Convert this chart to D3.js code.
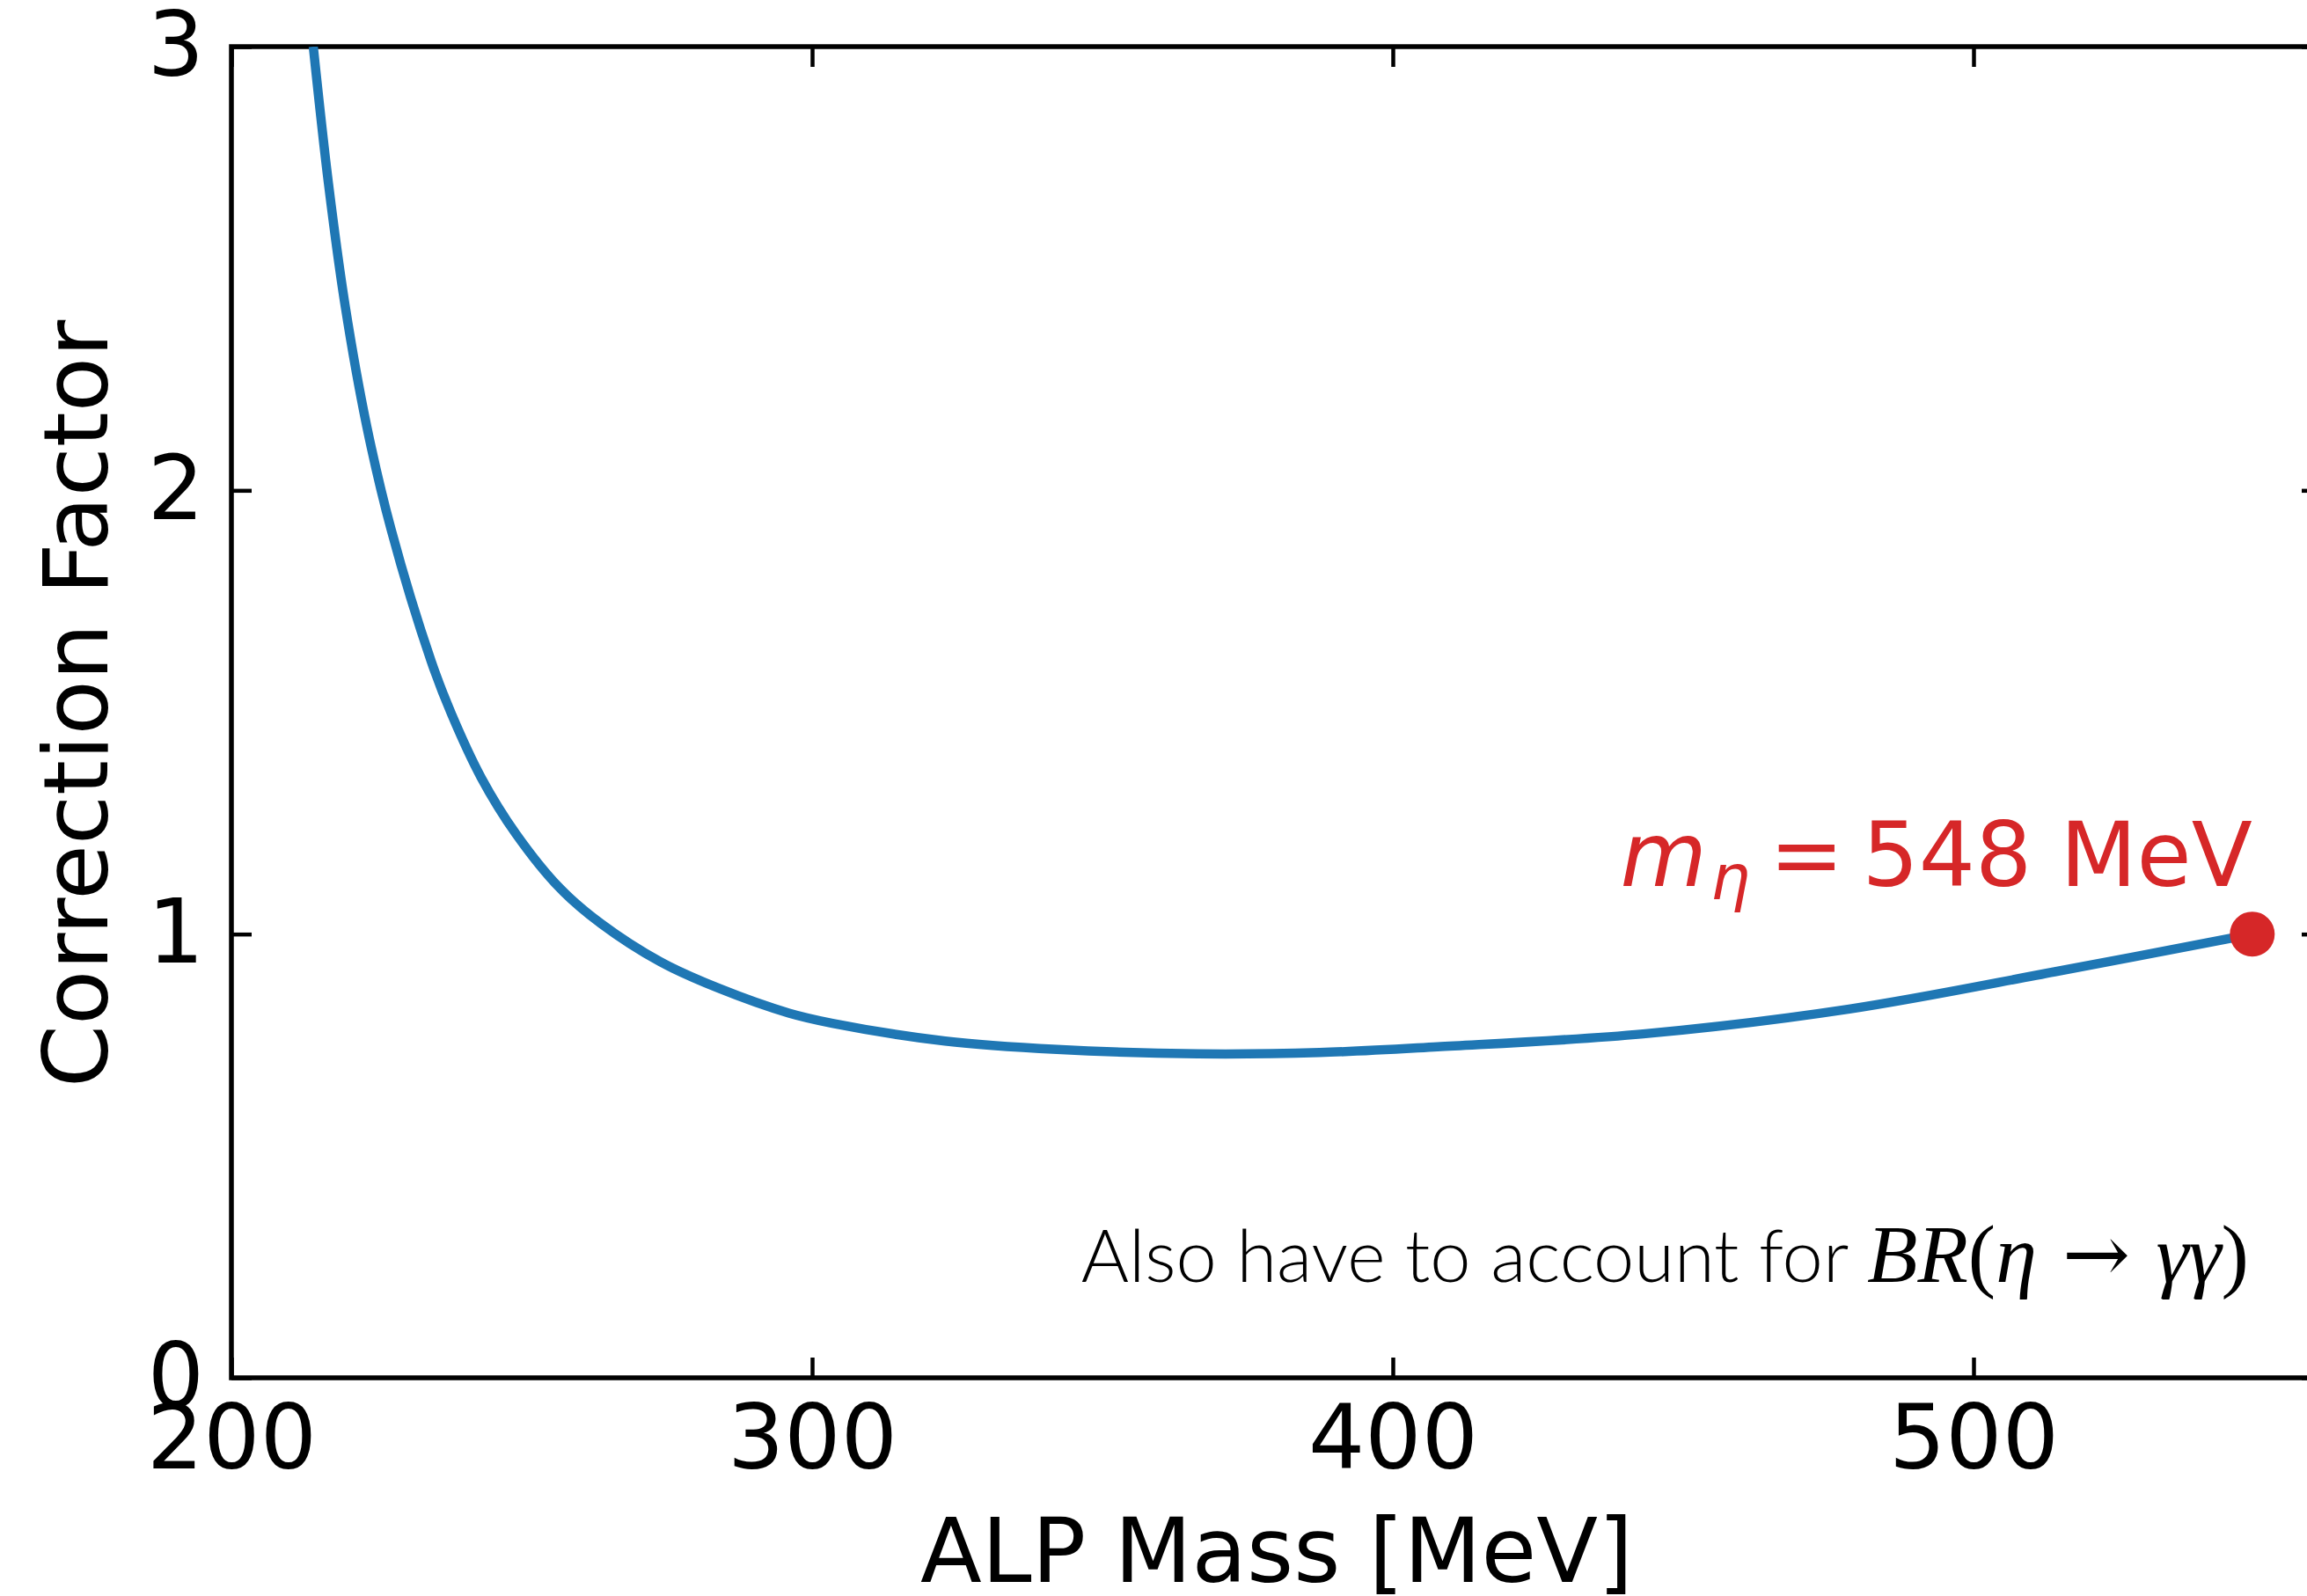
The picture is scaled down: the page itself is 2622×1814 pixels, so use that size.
<!DOCTYPE html>
<html>
<head>
<meta charset="utf-8">
<script src="https://cdn.jsdelivr.net/npm/d3@7"></script>
<style>
body{margin:0;background:#fff;}
svg text{font-family:"DejaVu Sans";}
</style>
</head>
<body>
<div class="chart"></div>
<script>
//alp correction factor vs ALP mass

//curve
var alpMass = [214.1, 216.7, 219.6, 223.3, 227.5, 234.4, 237.9, 243.0, 249.0, 256.6,
	263.7, 273.8, 283.9, 296.0, 303.5, 322.9, 342.2, 366.4, 387.4, 407.7, 443.1,
	478.6, 514.0, 548.0];
var correctionFactor = [3.0, 2.693, 2.415, 2.145, 1.912, 1.615, 1.496, 1.353, 1.226, 1.103,
	1.023, 0.938, 0.878, 0.822, 0.799, 0.759, 0.740, 0.730, 0.733, 0.746, 0.775,
	0.831, 0.915, 1.0];

var xTicks = [200, 300, 400, 500];
var yTicks = [0, 1, 2, 3];
var xDomain = [200, 560];
var yDomain = [0, 3];

//eta marker
var etaMass = [548];
var etaFactor = [1];

var width = 2622, height = 1814;
var plot = {left: 263, right: 2639, top: 53, bottom: 1566};
var tickLen = 23;
var fontSize = 101;

var svg = d3.select(".chart")
	.append("svg")
	.attr("width", width)
	.attr("height", height);

var x = d3.scaleLinear().domain(xDomain).range([plot.left, plot.right]);
var y = d3.scaleLinear().domain(yDomain).range([plot.bottom, plot.top]);

svg.append("clipPath")
	.attr("id", "plotClip")
	.append("rect")
	.attr("x", plot.left)
	.attr("y", plot.top)
	.attr("width", plot.right - plot.left)
	.attr("height", plot.bottom - plot.top);

/** axes, all ticks pointing in **/
function styleAxis(g){
	g.select(".domain").remove();
	g.selectAll(".tick line").attr("stroke", "#000").attr("stroke-width", 4.5);
	g.selectAll(".tick text").attr("fill", "#000");
	g.attr("font-size", fontSize).attr("font-family", "DejaVu Sans");
}

svg.append("g")
	.attr("transform", "translate(0," + plot.bottom + ")")
	.call(d3.axisBottom(x).tickValues(xTicks).tickSizeInner(-tickLen).tickSizeOuter(0).tickPadding(31).tickFormat(d3.format("d")))
	.call(styleAxis);

svg.append("g")
	.attr("transform", "translate(0," + plot.top + ")")
	.call(d3.axisTop(x).tickValues(xTicks).tickSizeInner(-tickLen).tickSizeOuter(0).tickFormat(""))
	.call(styleAxis);

svg.append("g")
	.attr("transform", "translate(" + plot.left + ",0)")
	.call(d3.axisLeft(y).tickValues(yTicks).tickSizeInner(-tickLen).tickSizeOuter(0).tickPadding(31).tickFormat(d3.format("d")))
	.call(styleAxis);

svg.append("g")
	.attr("transform", "translate(" + plot.right + ",0)")
	.call(d3.axisRight(y).tickValues(yTicks).tickSizeInner(-tickLen).tickSizeOuter(0).tickFormat(""))
	.call(styleAxis);

//frame
svg.append("rect")
	.attr("x", plot.left)
	.attr("y", plot.top)
	.attr("width", plot.right - plot.left)
	.attr("height", plot.bottom - plot.top)
	.attr("fill", "none")
	.attr("stroke", "#000")
	.attr("stroke-width", 5.5);

/** curve **/
var pts = alpMass.map(function(d, i){ return [d, correctionFactor[i]]; });
var line = d3.line()
	.x(function(d){ return x(d[0]); })
	.y(function(d){ return y(d[1]); })
	.curve(d3.curveCatmullRom.alpha(0.5));

svg.append("path")
	.datum(pts)
	.attr("clip-path", "url(#plotClip)")
	.attr("d", line)
	.attr("fill", "none")
	.attr("stroke", "#1f77b4")
	.attr("stroke-width", 10.5)
	.attr("stroke-linejoin", "round");

svg.selectAll(".eta")
	.data(etaMass)
	.enter()
	.append("circle")
	.attr("class", "eta")
	.attr("cx", function(d){ return x(d); })
	.attr("cy", function(d, i){ return y(etaFactor[i]); })
	.attr("r", 25.5)
	.attr("fill", "#d62728");

//m_eta label
var etaLabel = svg.append("text")
	.attr("x", x(etaMass[0]))
	.attr("y", y(etaFactor[0]) - 55)
	.attr("text-anchor", "end")
	.attr("fill", "#d62728")
	.attr("font-size", fontSize);
etaLabel.append("tspan").attr("font-style", "italic").text("m");
etaLabel.append("tspan").attr("font-style", "italic").attr("font-size", 71).attr("dy", 15).attr("dx", 4).text("η");
etaLabel.append("tspan").attr("dy", -15).attr("dx", 22).text("=");
etaLabel.append("tspan").attr("dx", 21).text("548 MeV");

//note about branching ratio
var note = svg.append("text")
	.attr("x", x(548) - 4)
	.attr("y", 1457)
	.attr("text-anchor", "end")
	.attr("fill", "#000");
note.append("tspan")
	.attr("font-family", "Lato")
	.attr("font-weight", 300)
	.attr("font-size", 83)
	.text("Also have to account for ");
[["BR", "italic", "Liberation Serif"], ["(", "normal", "Liberation Serif"], ["η", "italic", "Liberation Serif"],
	[" \u2192 ", "normal", "DejaVu Serif"], ["γγ", "italic", "Liberation Serif"], [")", "normal", "Liberation Serif"]]
	.forEach(function(p){
		note.append("tspan")
			.attr("font-family", p[2])
			.attr("font-size", p[2] == "DejaVu Serif" ? 92 : 94)
			.attr("font-style", p[1])
			.text(p[0]);
	});

/** axis labels **/
svg.append("text")
	.attr("x", (plot.left + plot.right) / 2)
	.attr("y", 1798)
	.attr("text-anchor", "middle")
	.attr("font-size", 102)
	.text("ALP Mass [MeV]");

svg.append("text")
	.attr("transform", "translate(122,800) rotate(-90)")
	.attr("text-anchor", "middle")
	.attr("font-size", 102)
	.text("Correction Factor");
</script>
</body>
</html>
